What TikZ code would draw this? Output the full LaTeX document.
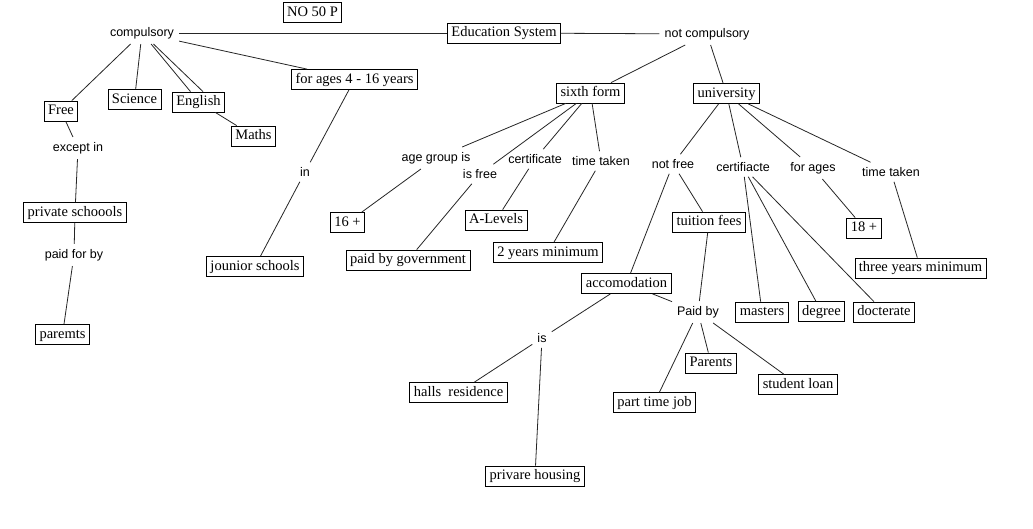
\documentclass[tikz,border=0pt]{standalone}
\usepackage{fontspec}
\setmainfont{Liberation Serif}
\newfontfamily\lblfont{Liberation Sans}
\begin{document}
\begin{tikzpicture}[x=1pt,y=-1pt,
  box/.style={draw, line width=0.8pt, font=\fontsize{14.5}{16}\selectfont, inner xsep=4pt, inner ysep=3pt, text height=10.5pt, text depth=3.5pt},
  lbl/.style={font=\lblfont\fontsize{12.5}{14}\selectfont, inner sep=5pt},
  conn/.style={line width=0.8pt, black!85}]
\useasboundingbox (0,0) rectangle (1033,528);
\fill[white] (0,0) rectangle (1033,528);
% nodes
\node[box] (no) at (312.5,12.5) {NO 50 P};
\node[box] (edu) at (504,33) {Education System};
\node[lbl] (comp) at (142,33) {compulsory};
\node[lbl] (notc) at (707,34) {not compulsory};
\node[box] (free) at (61,111) {Free};
\node[box] (sci) at (134.5,99.5) {Science};
\node[box] (eng) at (198.5,102) {English};
\node[box] (maths) at (253.5,136) {Maths};
\node[box] (ages) at (354.5,79.5) {for ages 4 - 16 years};
\node[lbl] (except) at (78,148) {except in};
\node[box] (priv) at (75,212.5) {private schoools};
\node[lbl] (paidfor) at (74,255) {paid for by};
\node[box] (paremts) at (62.5,334.5) {paremts};
\node[lbl] (in) at (305,172) {in};
\node[box] (jun) at (255,266.5) {jounior schools};
\node[box] (sixth) at (590.5,93) {sixth form};
\node[box] (uni) at (726.5,93.5) {university};
\node[lbl] (agegrp) at (436,158) {age group is};
\node[lbl] (isfree) at (480,174) {is free};
\node[lbl] (cert) at (535,159) {certificate};
\node[lbl] (tt1) at (601,161) {time taken};
\node[box] (sixteen) at (347.5,222.5) {16 +};
\node[box] (alev) at (496,220) {A-Levels};
\node[box] (gov) at (408,260) {paid by government};
\node[box] (twoyr) at (548,252.5) {2 years minimum};
\node[lbl] (notfree) at (673,164) {not free};
\node[lbl] (cert2) at (743,167) {certifiacte};
\node[lbl] (forages) at (813,168) {for ages};
\node[lbl] (tt2) at (891,172) {time taken};
\node[box] (tuition) at (709,222) {tuition fees};
\node[box] (eighteen) at (864,228) {18 +};
\node[box] (threeyr) at (920.5,268) {three years minimum};
\node[box] (acc) at (626.5,283.5) {accomodation};
\node[lbl] (paidby) at (698,312) {Paid by};
\node[box] (masters) at (762,312) {masters};
\node[box] (degree) at (821.5,311.5) {degree};
\node[box] (doct) at (884,312) {docterate};
\node[box] (parents) at (711,363) {Parents};
\node[box] (loan) at (798,384.5) {student loan};
\node[box] (ptj) at (654.5,402.5) {part time job};
\node[lbl] (is) at (542,338) {is};
\node[box] (halls) at (458.5,392.5) {halls\ \ residence};
\node[box] (housing) at (535,476) {privare housing};
% connectors
\draw[conn] (comp) -- (edu);
\draw[conn] (edu) -- (notc);
\draw[conn] (comp) -- (free);
\draw[conn] (comp) -- (sci);
\draw[conn] (comp) -- ([xshift=-8pt]eng.north);
\draw[conn] (comp) -- ([xshift=4.5pt]eng.north);
\draw[conn] (eng) -- (maths);
\draw[conn] (comp) -- (ages);
\draw[conn] (free) -- (except);
\draw[conn] (except) -- (priv);
\draw[conn] (priv) -- (paidfor);
\draw[conn] (paidfor) -- (paremts);
\draw[conn] (ages) -- (in);
\draw[conn] (in) -- (jun);
\draw[conn] (notc) -- (sixth);
\draw[conn] (notc) -- (uni);
\draw[conn] (sixth) -- (agegrp);
\draw[conn] (sixth) -- (isfree);
\draw[conn] (sixth) -- (cert);
\draw[conn] (sixth) -- (tt1);
\draw[conn] (agegrp) -- (sixteen);
\draw[conn] (isfree) -- (gov);
\draw[conn] (cert) -- (alev);
\draw[conn] (tt1) -- (twoyr);
\draw[conn] (uni) -- (notfree);
\draw[conn] (uni) -- (cert2);
\draw[conn] (uni) -- (forages);
\draw[conn] (uni) -- (tt2);
\draw[conn] (notfree) -- (acc);
\draw[conn] (notfree) -- (tuition);
\draw[conn] (cert2) -- (masters);
\draw[conn] (cert2) -- (degree);
\draw[conn] (cert2) -- (doct);
\draw[conn] (forages) -- (eighteen);
\draw[conn] (tt2) -- (threeyr);
\draw[conn] (tuition) -- (paidby);
\draw[conn] (acc) -- (paidby);
\draw[conn] (acc) -- (is);
\draw[conn] (is) -- (halls);
\draw[conn] (is) -- (housing);
\draw[conn] (paidby) -- (ptj);
\draw[conn] (paidby) -- (parents);
\draw[conn] (paidby) -- (loan);
\end{tikzpicture}
\end{document}
